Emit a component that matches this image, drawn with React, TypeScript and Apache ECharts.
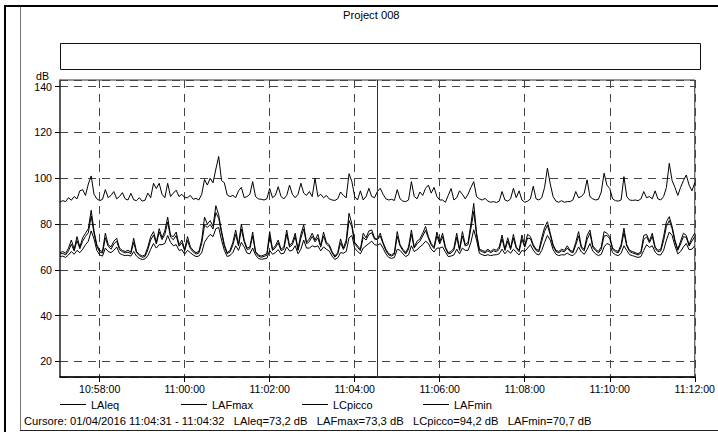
import React, { useEffect, useRef } from "react";
import * as echarts from "echarts";

// ---- data (sampled every 4 s from 10:57:04 to 11:12:00) ----
const startTime = { h: 10, m: 57, s: 4 };
const stepSeconds = 4;

const lcPicco = [
  89.6, 90.2, 89.8, 91.5, 90.4, 92.0, 91.0, 94.5, 95.0, 92.5, 97.5, 101.0, 93.0, 91.0, 90.2,
  90.8, 95.0, 91.5, 92.5, 94.2, 91.0, 92.0, 93.7, 91.0, 90.5, 93.4, 90.6, 90.2, 91.5, 90.0,
  90.4, 93.5, 91.5, 97.8, 95.5, 97.8, 93.0, 91.5, 97.8, 92.0, 93.5, 94.8, 92.0, 93.0, 91.5,
  91.5, 92.5, 90.8, 91.2, 90.5, 93.0, 99.5, 97.0, 100.0, 98.0, 104.0, 109.5, 99.0, 98.0, 92.7,
  92.0, 92.5, 91.5, 94.5, 96.0, 91.5, 92.0, 93.0, 98.5, 92.0, 91.0, 90.8, 90.5, 91.0, 95.5,
  91.5, 92.5, 96.3, 92.0, 91.0, 92.5, 97.0, 93.0, 91.5, 93.0, 97.8, 93.5, 92.5, 94.2, 92.0,
  100.0, 92.0, 93.0, 91.5, 92.5, 91.0, 90.5, 90.3, 91.0, 94.0, 92.5, 91.5, 102.0, 98.5, 92.0,
  90.5, 94.5, 90.5, 92.0, 95.6, 92.0, 91.5, 94.2, 95.6, 93.0, 91.0, 90.5, 90.8, 90.3, 95.0,
  91.0, 90.0, 89.8, 90.5, 98.5, 92.0, 91.0, 94.0, 92.5, 95.6, 97.0, 93.5, 96.0, 92.0, 90.5,
  90.5, 89.5, 92.5, 95.5, 90.5, 91.5, 94.5, 93.0, 91.0, 93.0, 96.0, 98.5, 92.0, 91.0, 90.5,
  91.2, 90.0, 89.5, 89.8, 89.4, 90.0, 94.2, 90.5, 90.0, 91.0, 95.6, 91.5, 94.5, 90.5, 89.5,
  90.0, 91.0, 96.5, 91.0, 90.5, 91.5, 96.0, 104.4, 97.5, 92.0, 90.0, 89.5, 90.2, 89.5, 89.8,
  89.8, 90.5, 94.2, 91.5, 92.0, 93.5, 99.3, 92.0, 91.0, 90.5, 90.8, 94.0, 102.2, 97.0, 95.5,
  91.0, 90.2, 90.0, 90.5, 100.7, 92.0, 90.5, 90.3, 90.5, 90.2, 91.0, 94.2, 91.5, 92.0, 91.0,
  94.5, 91.0, 90.5, 92.0, 96.0, 106.5, 99.0, 96.0, 92.5, 96.0, 99.0, 101.4, 97.0, 94.5, 98.0,
];

const lafMax = [
  67.5, 68.0, 67.2, 69.5, 73.0, 69.0, 74.5, 70.0, 74.0, 76.0, 78.0, 86.0, 77.0, 71.0, 68.5,
  68.0, 76.0, 71.0, 70.0, 72.5, 73.8, 69.5, 68.5, 68.0, 68.5, 67.8, 73.8, 68.0, 66.8, 66.0,
  66.5, 70.0, 74.5, 76.7, 72.0, 78.0, 74.0, 77.0, 83.0, 75.0, 74.5, 76.5, 71.0, 73.0, 69.0,
  74.5, 70.0, 68.5, 67.5, 68.0, 73.0, 83.0, 80.0, 81.5, 79.0, 88.0, 84.0, 77.0, 71.0, 67.5,
  68.5, 72.0, 77.4, 71.0, 80.0, 73.0, 69.5, 70.0, 76.5, 68.0, 66.5, 66.0, 66.5, 67.0, 76.7,
  69.0, 70.5, 73.0, 69.0, 70.0, 77.4, 70.5, 72.0, 76.0, 69.0, 75.5, 79.6, 72.0, 73.5, 76.0,
  73.0, 75.5, 70.5, 76.5, 72.0, 71.0, 68.0, 66.0, 67.5, 73.5, 69.5, 73.0, 84.7, 80.0, 72.0,
  70.5, 69.0, 76.0, 74.0, 77.0, 77.4, 74.0, 73.3, 76.0, 72.0, 69.0, 67.0, 66.5, 67.5, 76.7,
  71.0, 69.0, 67.5, 70.0, 77.4, 70.0, 72.5, 73.5, 76.0, 78.9, 74.5, 71.5, 70.0, 76.5, 72.0,
  76.0, 70.0, 67.5, 68.0, 69.5, 76.0, 69.0, 76.7, 71.0, 72.0, 80.0, 89.0, 76.0, 69.0, 68.5,
  68.0, 69.0, 68.0, 69.0, 68.5, 70.0, 75.2, 69.0, 74.0, 69.5, 75.5, 70.0, 68.5, 75.2, 70.5,
  75.5, 74.5, 71.0, 69.0, 68.5, 74.0, 78.5, 81.0, 76.0, 71.0, 68.5, 68.0, 69.0, 68.5, 70.5,
  68.5, 68.0, 72.0, 76.7, 70.0, 69.0, 75.0, 77.4, 70.5, 69.0, 68.0, 70.0, 76.7, 76.0, 74.5,
  69.5, 68.5, 68.0, 71.0, 78.2, 71.0, 68.5, 68.0, 67.5, 67.0, 68.0, 75.0, 75.5, 72.5, 76.0,
  70.0, 68.5, 69.0, 74.5, 81.0, 83.2, 79.0, 73.0, 69.0, 72.5, 76.0, 75.0, 71.0, 74.0, 76.0,
];

const laeq = [
  66.9, 67.2, 66.5, 68.3, 71.2, 68.2, 72.8, 69.2, 72.5, 74.6, 76.2, 83.5, 76.0, 70.2, 67.8,
  67.3, 74.0, 70.3, 69.0, 71.3, 72.5, 68.8, 67.9, 67.4, 67.7, 67.1, 72.0, 67.4, 66.2, 65.5,
  65.8, 68.8, 73.0, 75.2, 71.3, 76.5, 73.2, 75.5, 80.8, 74.3, 73.2, 75.0, 70.3, 71.8, 68.3,
  72.8, 69.3, 67.8, 66.9, 67.3, 71.5, 79.5, 78.5, 79.8, 77.8, 85.0, 82.5, 76.0, 70.3, 67.0,
  67.8, 70.8, 75.5, 70.4, 77.8, 72.2, 68.9, 69.2, 74.8, 67.6, 66.0, 65.5, 65.9, 66.3, 74.5,
  68.5, 69.6, 71.8, 68.4, 69.0, 75.6, 69.9, 71.0, 74.5, 68.5, 73.8, 77.8, 71.4, 72.3, 74.6,
  72.2, 74.0, 69.9, 74.8, 71.2, 70.2, 67.4, 65.5, 66.8, 71.8, 68.9, 71.6, 81.5, 78.8, 71.3,
  69.8, 68.4, 74.2, 73.0, 75.5, 76.2, 73.4, 73.2, 74.8, 71.4, 68.4, 66.5, 66.0, 66.8, 74.6,
  70.4, 68.4, 66.9, 69.0, 75.5, 69.5, 71.4, 72.5, 74.8, 77.2, 73.8, 70.8, 69.3, 74.8, 71.3,
  74.5, 69.4, 67.0, 67.3, 68.6, 74.2, 68.5, 74.8, 70.4, 71.0, 78.0, 85.5, 75.2, 68.5, 67.9,
  67.4, 68.3, 67.5, 68.3, 67.9, 69.0, 73.5, 68.5, 72.6, 68.9, 73.8, 69.4, 67.9, 73.4, 69.9,
  73.9, 73.6, 70.4, 68.4, 67.9, 72.4, 76.8, 79.5, 75.2, 70.4, 68.0, 67.4, 68.3, 67.9, 69.5,
  68.0, 67.4, 70.8, 74.8, 69.4, 68.3, 73.2, 76.0, 69.9, 68.4, 67.4, 69.0, 74.8, 75.0, 73.6,
  69.0, 67.9, 67.4, 70.0, 76.2, 70.4, 68.0, 67.4, 67.0, 66.5, 67.3, 73.2, 74.4, 71.8, 74.6,
  69.4, 67.9, 68.2, 72.8, 79.0, 81.5, 78.0, 72.3, 68.5, 71.3, 74.5, 74.2, 70.4, 72.6, 74.5,
];

const lafMin = [
  65.8, 66.0, 65.4, 66.5, 68.0, 66.8, 68.5, 67.5, 69.0, 71.0, 72.5, 77.0, 73.5, 68.5, 66.5,
  66.0, 69.5, 68.0, 67.5, 68.5, 70.0, 67.2, 66.6, 66.2, 66.4, 66.0, 68.0, 66.0, 65.0, 64.5,
  64.8, 66.2, 69.0, 71.5, 69.5, 71.0, 71.0, 71.5, 75.0, 72.0, 70.5, 71.0, 68.5, 68.8, 66.8,
  68.5, 67.5, 66.5, 65.8, 66.0, 67.5, 72.0, 74.0, 75.5, 74.5, 78.0, 78.5, 73.0, 68.5, 65.8,
  66.3, 67.5, 70.5, 68.5, 72.0, 70.0, 67.3, 67.0, 69.5, 66.5, 65.0, 64.6, 64.8, 65.0, 68.5,
  66.8, 67.5, 68.8, 67.0, 67.2, 70.0, 68.2, 68.5, 70.5, 67.0, 69.0, 73.0, 69.5, 69.5, 70.5,
  70.0, 70.5, 68.3, 70.0, 69.0, 68.2, 66.0, 64.5, 65.2, 67.5, 67.3, 68.0, 74.0, 75.0, 69.5,
  68.0, 67.0, 69.5, 70.5, 71.5, 72.5, 71.0, 70.7, 71.5, 69.5, 67.0, 65.4, 65.0, 65.4, 69.0,
  68.5, 67.0, 65.8, 66.5, 70.5, 68.0, 68.8, 70.0, 71.0, 72.5, 71.5, 69.0, 67.8, 69.5, 69.5,
  70.0, 67.8, 65.8, 66.0, 66.5, 69.0, 67.0, 69.5, 68.5, 68.5, 72.0, 77.5, 73.0, 67.2, 66.6,
  66.2, 66.6, 66.2, 66.5, 66.6, 67.0, 69.0, 67.0, 68.5, 67.2, 69.0, 67.8, 66.5, 68.5, 68.0,
  69.5, 71.0, 68.6, 67.0, 66.5, 68.5, 72.0, 75.0, 73.0, 68.8, 66.8, 66.2, 66.6, 66.5, 67.3,
  66.5, 66.2, 67.5, 70.0, 67.8, 66.8, 68.8, 71.5, 68.2, 67.0, 66.2, 66.8, 70.0, 71.5, 71.0,
  67.5, 66.6, 66.2, 67.2, 70.5, 68.5, 66.6, 66.2, 65.8, 65.4, 65.8, 68.5, 71.0, 69.8, 70.5,
  67.8, 66.6, 66.5, 68.5, 73.0, 76.5, 75.0, 70.5, 67.0, 68.0, 70.0, 71.5, 68.8, 69.0, 70.5,
];

const seriesNames = ["LAleq", "LAFmax", "LCpicco", "LAFmin"];
const chartTitle = "Project 008";
const yAxisName = "dB";
const cursorTime = "11:04:32";
const cursorText =
  "Cursore: 01/04/2016 11:04:31 - 11:04:32   LAleq=73,2 dB   LAFmax=73,3 dB   LCpicco=94,2 dB   LAFmin=70,7 dB";

const FONT = "'Liberation Sans', Arial, Helvetica, sans-serif";
const FS_AXIS = 10.6;
const FS_TEXT = 11.2;

const pad = (n: number) => (n < 10 ? "0" + n : String(n));
const times: string[] = lcPicco.map((_, i) => {
  const tot = startTime.h * 3600 + startTime.m * 60 + startTime.s + i * stepSeconds;
  return `${pad(Math.floor(tot / 3600))}:${pad(Math.floor(tot / 60) % 60)}:${pad(tot % 60)}`;
});

const isMajor = (_idx: number, value: string) => {
  const parts = String(value).split(":").map(Number);
  return parts[2] === 0 && parts[1] % 2 === 0;
};

export default function App() {
  const ref = useRef<HTMLDivElement>(null);

  useEffect(() => {
    if (!ref.current) return;
    const chart = echarts.init(ref.current, undefined, { renderer: "svg" });
    const lineStyle = { color: "#000", width: 1 };
    const dataByName: Record<string, number[]> = {
      LAleq: laeq,
      LAFmax: lafMax,
      LCpicco: lcPicco,
      LAFmin: lafMin,
    };

    chart.setOption({
      animation: false,
      backgroundColor: "#fff",
      textStyle: { fontFamily: FONT },
      title: [
        {
          text: chartTitle,
          left: 343,
          top: 9,
          padding: 0,
          textStyle: { fontSize: FS_TEXT, fontWeight: "normal", color: "#000", fontFamily: FONT },
        },
        {
          text: cursorText,
          left: 24,
          top: 415,
          padding: 0,
          textStyle: { fontSize: FS_TEXT, fontWeight: "normal", color: "#000", fontFamily: FONT },
        },
      ],
      legend: seriesNames.map((n, k) => ({
        data: [n],
        left: 60 + 121 * k,
        top: 399,
        padding: 0,
        icon: "rect",
        itemWidth: 26,
        itemHeight: 1,
        itemStyle: { color: "#000", borderWidth: 0 },
        selectedMode: false,
        textStyle: { fontSize: 11, color: "#000", fontFamily: FONT },
      })),
      grid: {
        left: 60,
        right: 19,
        top: 80,
        bottom: 55,
        show: true,
        borderColor: "#333",
        borderWidth: 1,
        backgroundColor: "transparent",
      },
      xAxis: {
        type: "category",
        data: times,
        boundaryGap: false,
        axisLine: { lineStyle: { color: "#000", width: 1.5 } },
        axisTick: { interval: isMajor, length: 5, lineStyle: { color: "#000" } },
        axisLabel: { interval: isMajor, margin: 6, fontSize: FS_AXIS, color: "#000", fontFamily: FONT },
        splitLine: {
          show: true,
          interval: isMajor,
          lineStyle: { type: [8, 6], color: "#444", width: 1 },
        },
      },
      yAxis: {
        type: "value",
        min: 13.2,
        max: 142.9,
        splitNumber: 6,
        name: yAxisName,
        nameLocation: "end",
        nameGap: 3,
        nameTextStyle: {
          align: "right",
          verticalAlign: "middle",
          fontSize: FS_AXIS,
          color: "#000",
          fontFamily: FONT,
          padding: [0, 11, 0, 0],
        },
        axisLine: { show: true, lineStyle: { color: "#444", width: 1.5 } },
        axisTick: { show: true, length: 5, lineStyle: { color: "#000" } },
        axisLabel: {
          showMinLabel: false,
          showMaxLabel: false,
          margin: 8,
          fontSize: FS_AXIS,
          color: "#000",
          fontFamily: FONT,
        },
        splitLine: { show: true, lineStyle: { type: [8, 6], color: "#444", width: 1 } },
      },
      series: seriesNames.map((n) => ({
        name: n,
        type: "line",
        data: dataByName[n],
        symbol: "none",
        showSymbol: false,
        lineStyle,
        itemStyle: { color: "#000" },
        emphasis: { disabled: true },
        markLine:
          n === "LCpicco"
            ? {
                silent: true,
                symbol: ["none", "none"],
                label: { show: false },
                lineStyle: { color: "#333", width: 1, type: "solid" },
                data: [{ xAxis: cursorTime }],
              }
            : undefined,
      })),
      graphic: [
        { type: "rect", shape: { x: 4, y: 5, width: 2, height: 427 }, style: { fill: "#000" }, silent: true },
        { type: "rect", shape: { x: 4, y: 5, width: 714, height: 2 }, style: { fill: "#000" }, silent: true },
        { type: "line", shape: { x1: 20.5, y1: 7, x2: 20.5, y2: 430 }, style: { stroke: "#777", lineWidth: 1 }, silent: true },
        { type: "line", shape: { x1: 20, y1: 430.5, x2: 718, y2: 430.5 }, style: { stroke: "#222", lineWidth: 1 }, silent: true },
        {
          type: "rect",
          shape: { x: 60.5, y: 43.5, width: 640, height: 26 },
          style: { fill: "none", stroke: "#111", lineWidth: 1 },
          silent: true,
        },
      ],
    });

    return () => chart.dispose();
  }, []);

  return (
    <div
      ref={ref}
      style={{ position: "fixed", left: 0, top: 0, width: 718, height: 432, background: "#fff" }}
    />
  );
}
